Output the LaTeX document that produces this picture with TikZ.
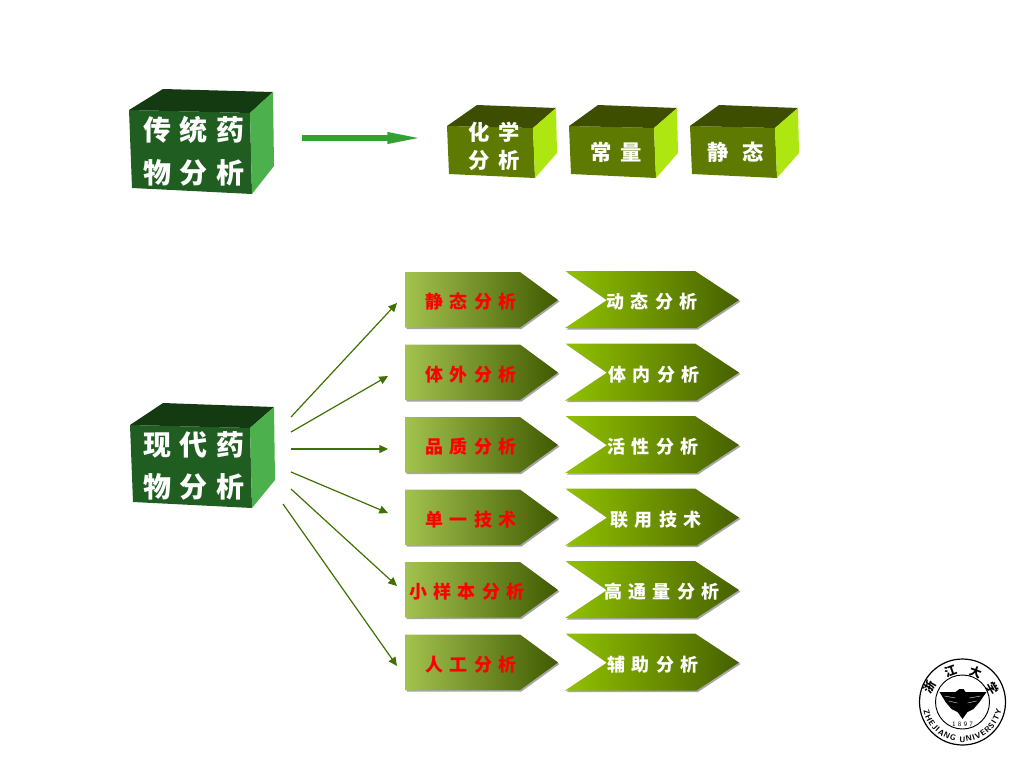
\documentclass[tikz,border=0pt]{standalone}
\usepackage{fontspec}
\usepackage{tikz}
\usetikzlibrary{arrows.meta, decorations.text}
\newfontfamily\cjkfont{Noto Sans CJK SC}
\definecolor{deepfront}{RGB}{31, 94, 32}
\definecolor{deeptop}{RGB}{20, 58, 18}
\definecolor{deepside}{RGB}{76, 176, 76}
\definecolor{limefront}{RGB}{95, 122, 0}
\definecolor{limetop}{RGB}{62, 78, 0}
\definecolor{limeside}{RGB}{174, 230, 18}
\definecolor{flowgreen}{RGB}{63, 112, 0}
\definecolor{bigarrow}{RGB}{51, 160, 51}
\definecolor{tagleftA}{RGB}{163, 194, 79}
\definecolor{tagleftB}{RGB}{63, 90, 0}
\definecolor{tagrightA}{RGB}{146, 194, 0}
\definecolor{tagrightB}{RGB}{70, 96, 0}
\tikzset{
  bigtext/.style={text=white, align=center, font={\cjkfont\bfseries\fontsize{21}{32}\selectfont\addfontfeature{LetterSpace=30}}},
  smalltext/.style={text=white, align=center, font={\cjkfont\bfseries\fontsize{16}{21}\selectfont\addfontfeature{LetterSpace=#1}}},
  tagtext/.style={align=center, font={\cjkfont\bfseries\fontsize{13.5}{16}\selectfont\addfontfeature{LetterSpace=36}}},
  logotext/.style={font={\cjkfont\bfseries\fontsize{9}{9}\selectfont}},
  flowline/.style={draw=flowgreen, line width=0.9pt, -{Triangle[length=6.5pt,width=6pt]}}
}

\begin{document}
\begin{tikzpicture}[x=0.75pt, y=-0.75pt]
  \useasboundingbox (0, 0) rectangle (1024, 768);

  % traditional box
  \fill[deepfront] (129, 110) -- (250, 113) -- (252, 194) -- (132, 188) -- cycle;
  \fill[deeptop] (129, 110) -- (163, 89) -- (273, 92) -- (250, 113) -- cycle;
  \fill[deepside] (250, 113) -- (273, 92) -- (274, 166) -- (252, 194) -- cycle;
  \node[bigtext] (tradbox) at (194, 151) {传统药\\物分析};

  % modern box
  \fill[deepfront] (130, 425) -- (250, 428) -- (252, 508) -- (133, 502) -- cycle;
  \fill[deeptop] (130, 425) -- (163, 403) -- (274, 407) -- (250, 428) -- cycle;
  \fill[deepside] (250, 428) -- (274, 407) -- (275, 480) -- (252, 508) -- cycle;
  \node[bigtext] (modernbox) at (194, 466) {现代药\\物分析};

  % small boxes
  \foreach \dx/\w in {0/0, 121/1, 242/1} {
    \fill[limefront] (447+\dx+\w, 126) -- (533+\dx, 128) -- (535+\dx, 178) -- (449+\dx+\w, 174) -- cycle;
    \fill[limetop] (447+\dx+\w, 126) -- (477+\dx, 105) -- (556+\dx, 108) -- (533+\dx, 128) -- cycle;
    \fill[limeside] (533+\dx, 128) -- (556+\dx, 108) -- (557+\dx, 153) -- (535+\dx, 178) -- cycle;
  }
  \node[smalltext=40] (chembox) at (494, 146) {化学\\分析};
  \node[smalltext=42] (constbox) at (616, 152) {常量};
  \node[smalltext=65] (staticbox) at (736, 152) {静态};

  % big arrow
  \coordinate (bigfrom) at (302, 138);
  \coordinate (bigto) at (426, 138);
  \draw[bigarrow, line width=4.5pt, -{Triangle[length=29pt,width=7.5pt]}] (bigfrom) -- (bigto);

  % tags
  \foreach \i/\y/\lefttext/\lx/\righttext/\rx in {
    1/272/静态分析/471/动态分析/652,
    2/344.5/体外分析/471/体内分析/654,
    3/417/品质分析/471/活性分析/653,
    4/489.5/单一技术/471/联用技术/656,
    5/562/小样本分析/467/高通量分析/662,
    6/634.5/人工分析/471/辅助分析/653} {
    \fill[gray!70] (406.5, \y+1.5) -- (521.5, \y+1.5) -- (559.5, \y+29.5) -- (521.5, \y+57) -- (406.5, \y+57) -- cycle;
    \shade[left color=tagleftA, right color=tagleftB] (405, \y) -- (520, \y) -- (558, \y+28) -- (520, \y+55.5) -- (405, \y+55.5) -- cycle;
    \fill[gray!70] (567, \y+0.5) -- (696.5, \y+0.5) -- (740.5, \y+29.5) -- (698, \y+57.5) -- (566.5, \y+57.5) -- (608.5, \y+29.5) -- cycle;
    \shade[left color=tagrightA, right color=tagrightB] (565.5, \y-1) -- (695, \y-1) -- (739, \y+28) -- (696.5, \y+56) -- (565, \y+56) -- (607, \y+28) -- cycle;
    \node[tagtext, text=red] (left\i) at (\lx, \y+30) {\lefttext};
    \node[tagtext, text=white] (right\i) at (\rx, \y+30) {\righttext};
  }

  % flow arrows
  \foreach \i/\ax/\ay/\bx/\by in {
    1/291/417/397/303,
    2/291/432/388/376,
    3/291/449/388/449,
    4/291/472/388/513,
    5/291/489/397/586,
    6/283/504/397/666} {
    \coordinate (from\i) at (\ax, \ay);
    \coordinate (to\i) at (\bx, \by);
    \draw[flowline] (from\i) -- (to\i);
  }

  % logo
  \begin{scope}[shift={(962.5, 702)}, x=0.75pt, y=0.75pt]
    \draw[line width=0.9pt] (0, 0) circle (43);
    \draw[line width=0.7pt] (0, 0) circle (27);
    \fill (-23, 10) -- (-7, 10) -- (-3, 13) -- (1, 13) -- (3, 10) -- (24, 10) -- (17, 0) -- (11, -7) -- (5, -10) -- (0, -17) -- (-5, -10) -- (-11, -7) -- (-17, 0) -- cycle;
    \foreach \s in {-1, 1} {
      \draw[white, line width=0.25pt] (\s*18, 6) -- (\s*7, 4);
      \draw[white, line width=0.25pt] (\s*14, 1) -- (\s*5, -1);
    }
    \node[logotext, rotate=60] (logoa) at (-33, 15) {浙};
    \node[logotext, rotate=20] (logob) at (-12, 31) {江};
    \node[logotext, rotate=-20] (logoc) at (13, 30) {大};
    \node[logotext, rotate=-60] (logod) at (30, 14) {学};
    \node[font={\sffamily\fontsize{5}{5}\selectfont}] (logoyear) at (0, -22) {1\,\,8\,\,9\,\,7};
    \path[decorate, decoration={text along path, text={|\sffamily\bfseries\fontsize{6}{6}\selectfont|ZHEJIANG UNIVERSITY}, text align={fit to path}}] (192:40) arc (192:348:40);
  \end{scope}
\end{tikzpicture}
\end{document}
